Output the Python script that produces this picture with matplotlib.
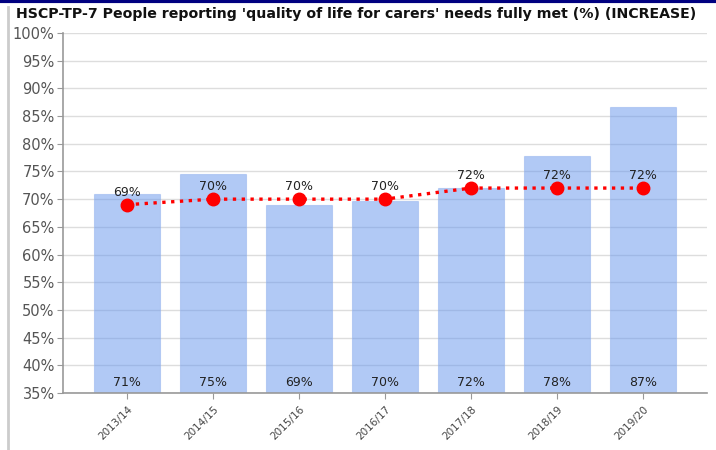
import matplotlib.pyplot as plt
from matplotlib.lines import Line2D

# data
years = ['2013/14', '2014/15', '2015/16', '2016/17', '2017/18', '2018/19', '2019/20']
bar_values = [71.0, 74.6, 69.0, 69.7, 72.0, 77.8, 86.7]
bar_labels = ['71%', '75%', '69%', '70%', '72%', '78%', '87%']
line_values = [69, 70, 70, 70, 72, 72, 72]
line_labels = ['69%', '70%', '70%', '70%', '72%', '72%', '72%']
y_ticks = list(range(35, 101, 5))

fig = plt.figure(figsize=(7.16, 4.5), dpi=100)
ax = fig.add_axes([0.088, 0.1267, 0.8994, 0.80])

x = list(range(len(years)))
ax.bar(x, bar_values, width=0.77, bottom=0, color='cornflowerblue', alpha=0.5,
       edgecolor='#8fb0ee', linewidth=0.8, zorder=2)
ax.plot(x, line_values, color='red', linestyle=':', linewidth=2.4,
        marker='o', markersize=9, zorder=4)

for i in x:
    ax.text(i, line_values[i] + 1.1, line_labels[i], ha='center', va='bottom',
            fontsize=9, color='#222222', zorder=5)
    ax.text(i, 35.7, bar_labels[i], ha='center', va='bottom',
            fontsize=9, color='#222222', zorder=5)

ax.set_ylim(35, 100)
ax.set_xlim(-0.744, len(years) - 1 + 0.744)
ax.set_yticks(y_ticks)
ax.set_yticklabels([f'{v}%' for v in y_ticks], fontsize=10.5, color='#555555')
ax.set_xticks(x)
ax.set_xticklabels(years, rotation=45, ha='right', rotation_mode='anchor',
                   fontsize=7.5, color='#444444')
ax.tick_params(axis='y', length=4, color='#999999', pad=2)
ax.tick_params(axis='x', length=4, color='#999999', pad=4)

ax.grid(axis='y', color='#dddddd', linewidth=1, zorder=0)
ax.set_axisbelow(True)
for side in ['top', 'right']:
    ax.spines[side].set_visible(False)
for side in ['left', 'bottom']:
    ax.spines[side].set_color('#999999')
    ax.spines[side].set_linewidth(1.2)

fig.text(0.022, 0.968, "HSCP-TP-7 People reporting 'quality of life for carers' needs fully met (%) (INCREASE)",
         fontsize=10.2, fontweight='bold', color='#111111', va='center', ha='left')

# frame decoration from the original screenshot
fig.add_artist(Line2D([0, 1], [0.997, 0.997], color='#000080', linewidth=3, transform=fig.transFigure))
fig.add_artist(Line2D([0.011, 0.011], [0.0, 0.985], color='#cccccc', linewidth=2, transform=fig.transFigure))

fig.savefig('out.png', dpi=100)
